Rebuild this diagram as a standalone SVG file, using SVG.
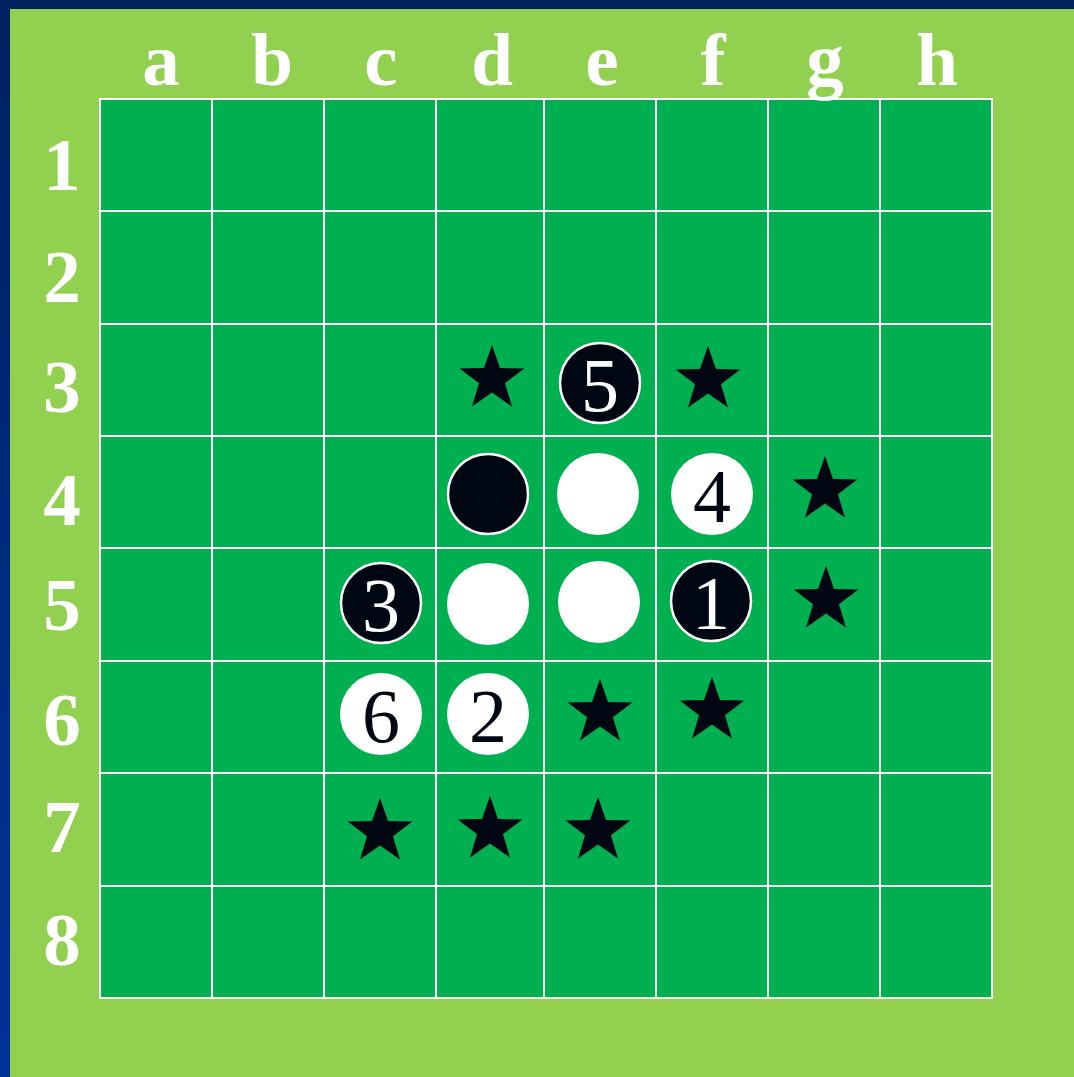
<svg xmlns="http://www.w3.org/2000/svg" width="1074" height="1077" viewBox="0 0 1074 1077">
<defs>
<linearGradient id="bg" x1="0" y1="0" x2="0" y2="1">
<stop offset="0" stop-color="#002060"/>
<stop offset="1" stop-color="#003399"/>
</linearGradient>
<path id="star" d="M0,-34 L7.99,-11 L32.34,-10.51 L12.93,4.2 L19.98,27.51 L0,13.6 L-19.98,27.51 L-12.93,4.2 L-32.34,-10.51 L-7.99,-11 Z"/>
</defs>
<style>
.lbl{font-family:"Liberation Serif","Times New Roman",serif;font-weight:bold;font-size:75px;fill:#fff;text-anchor:middle}
.num{font-family:"Liberation Serif","Times New Roman",serif;font-size:76px;text-anchor:middle}
.blk{fill:#010613;stroke:#fff;stroke-width:2.5}
.wht{fill:#fff}
.grid{stroke:#fff;stroke-width:2;fill:none}
.st{fill:#010613}
</style>
<rect x="0" y="0" width="1074" height="1077" fill="url(#bg)"/>
<rect x="10" y="9" width="1064" height="1068" fill="#92D050"/>
<g id="board">
<rect x="100" y="99" width="892" height="899" fill="#00B050"/>
<g class="grid">
<rect x="100" y="99" width="892" height="899"/>
<path d="M212,99V998M324,99V998M436,99V998M544,99V998M656,99V998M768,99V998M880,99V998"/>
<path d="M100,211H992M100,324H992M100,436H992M100,548H992M100,661H992M100,773H992M100,886H992"/>
</g>
</g>
<g id="col-labels">
<text class="lbl" x="161" y="85">a</text>
<text class="lbl" x="272" y="85">b</text>
<text class="lbl" x="381" y="85">c</text>
<text class="lbl" x="492" y="85">d</text>
<text class="lbl" x="602" y="85">e</text>
<text class="lbl" x="713" y="85">f</text>
<text class="lbl" x="825" y="85">g</text>
<text class="lbl" x="937" y="85">h</text>
</g>
<g id="row-labels">
<text class="lbl" x="62" y="190">1</text>
<text class="lbl" x="62" y="302">2</text>
<text class="lbl" x="62" y="412">3</text>
<text class="lbl" x="62" y="525">4</text>
<text class="lbl" x="62" y="630">5</text>
<text class="lbl" x="62" y="745">6</text>
<text class="lbl" x="62" y="852">7</text>
<text class="lbl" x="62" y="965">8</text>
</g>
<g id="pieces">
<g id="e3"><circle class="blk" cx="600" cy="383" r="40"/><text class="num" x="600" y="411" fill="#fff">5</text></g>
<g id="d4"><circle class="blk" cx="488" cy="494" r="40"/></g>
<g id="e4"><circle class="wht" cx="598" cy="494" r="41"/></g>
<g id="f4"><circle class="wht" cx="712" cy="494" r="41"/><text class="num" x="712" y="522" fill="#010613">4</text></g>
<g id="c5"><circle class="blk" cx="381" cy="603" r="40"/><text class="num" x="381" y="631" fill="#fff">3</text></g>
<g id="d5"><circle class="wht" cx="488" cy="604" r="41"/></g>
<g id="e5"><circle class="wht" cx="599" cy="602" r="41"/></g>
<g id="f5"><circle class="blk" cx="711" cy="601" r="40"/><text class="num" x="711" y="629" fill="#fff">1</text></g>
<g id="c6"><circle class="wht" cx="381" cy="714" r="41"/><text class="num" x="381" y="742" fill="#010613">6</text></g>
<g id="d6"><circle class="wht" cx="488" cy="714" r="41"/><text class="num" x="488" y="742" fill="#010613">2</text></g>
</g>
<g id="stars" class="st">
<use href="#star" x="492" y="379"/>
<use href="#star" x="708" y="380"/>
<use href="#star" x="825" y="490"/>
<use href="#star" x="826" y="600"/>
<use href="#star" x="600" y="713"/>
<use href="#star" x="712" y="711"/>
<use href="#star" x="380" y="832"/>
<use href="#star" x="490" y="830"/>
<use href="#star" x="598" y="831"/>
</g>
</svg>
